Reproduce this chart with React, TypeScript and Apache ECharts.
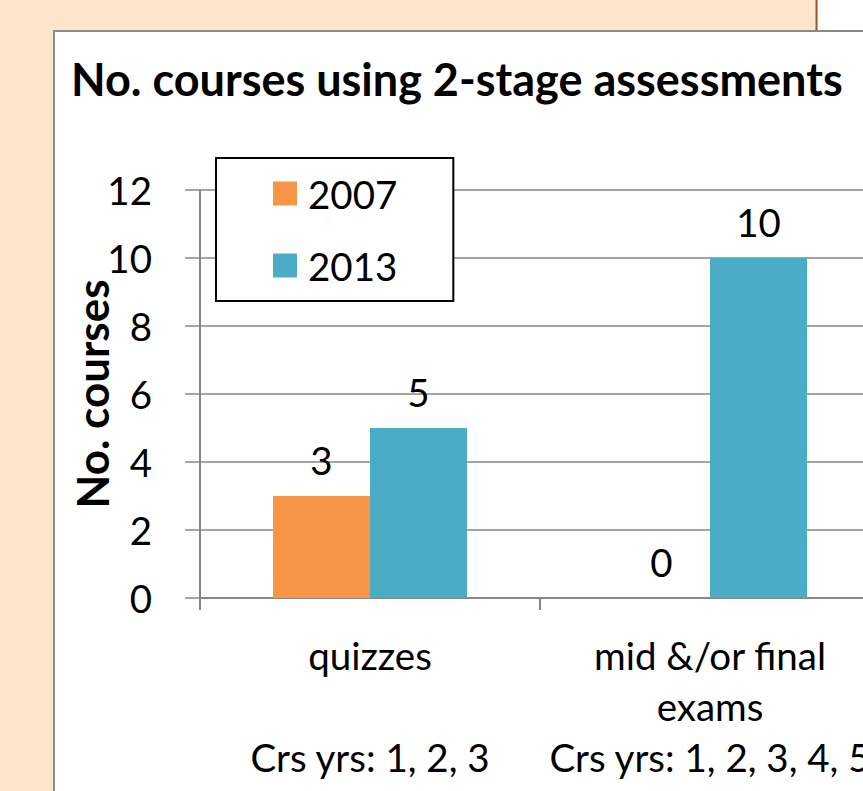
import React, { useEffect, useRef } from "react";
import * as echarts from "echarts";

const categories = ["quizzes\n\nCrs yrs: 1, 2, 3", "mid &/or final\nexams\nCrs yrs: 1, 2, 3, 4, 5"];
const seriesNames = ["2007", "2013"];
const values2007 = [3, 0];
const values2013 = [5, 10];
const yTicks = { min: 0, max: 12, interval: 2 };
const titleText = "No. courses using 2-stage assessments";
const yAxisTitle = "No. courses";

const FONT = "Lato, 'Open Sans', sans-serif";
const FS = 38.5;

export default function App() {
  const ref = useRef<HTMLDivElement>(null);
  useEffect(() => {
    if (!ref.current) return;
    const chart = echarts.init(ref.current, undefined, { renderer: "svg" });
    const labelStyle = {
      show: true,
      position: "top" as const,
      distance: 17,
      fontFamily: FONT,
      fontSize: FS,
      color: "#000",
    };
    chart.setOption({
      animation: false,
      backgroundColor: "#FDE4CD",
      textStyle: { fontFamily: FONT },
      title: {
        text: titleText,
        left: 66,
        top: 51,
        textStyle: { fontFamily: FONT, fontWeight: "bold", fontSize: 45, color: "#000" },
      },
      graphic: [
        { type: "rect", z: -10, shape: { x: 818, y: 0, width: 200, height: 30 }, style: { fill: "#fff" } },
        { type: "line", z: -9, shape: { x1: 816.5, y1: 0, x2: 816.5, y2: 30 }, style: { stroke: "#9A5B22", lineWidth: 2 } },
        {
          type: "rect",
          z: -10,
          shape: { x: 54, y: 31, width: 1000, height: 900 },
          style: { fill: "#fff", stroke: "#898989", lineWidth: 2 },
        },
      ],
      legend: {
        orient: "vertical",
        left: 216,
        top: 158,
        itemWidth: 24,
        itemHeight: 24,
        itemGap: 33,
        icon: "rect",
        padding: [16, 56, 16, 57],
        backgroundColor: "#fff",
        borderColor: "#000",
        borderWidth: 2,
        borderRadius: 0,
        textStyle: { fontFamily: FONT, fontSize: FS, color: "#000", lineHeight: 39, padding: [0, 0, 0, 6] },
        z: 10,
      },
      grid: { left: 200, width: 680, top: 190, height: 408, containLabel: false },
      xAxis: {
        type: "category",
        data: categories,
        axisLine: { lineStyle: { color: "#868686", width: 2 } },
        axisTick: { show: true, length: 12, lineStyle: { color: "#868686", width: 2 } },
        axisLabel: {
          fontFamily: FONT,
          fontSize: FS,
          color: "#000",
          lineHeight: 51,
          margin: 31,
          interval: 0,
        },
      },
      yAxis: {
        type: "value",
        min: yTicks.min,
        max: yTicks.max,
        interval: yTicks.interval,
        name: yAxisTitle,
        nameLocation: "middle",
        nameRotate: 90,
        nameGap: 86,
        nameMoveOverlap: false,
        nameTextStyle: { fontFamily: FONT, fontWeight: "bold", fontSize: 44, color: "#000" },
        axisLine: { show: true, lineStyle: { color: "#868686", width: 2 } },
        axisTick: { show: true, length: 15, lineStyle: { color: "#868686", width: 1.5 } },
        axisLabel: { fontFamily: FONT, fontSize: FS, color: "#000", margin: 48 },
        splitLine: { lineStyle: { color: "#868686", width: 1.5 } },
      },
      series: [
        {
          name: seriesNames[0],
          type: "bar",
          data: values2007,
          barWidth: 97,
          barGap: "0%",
          itemStyle: { color: "#F79646" },
          label: labelStyle,
        },
        {
          name: seriesNames[1],
          type: "bar",
          data: values2013,
          barWidth: 97,
          barGap: "0%",
          itemStyle: { color: "#4BACC6" },
          label: labelStyle,
        },
      ],
    });
    return () => chart.dispose();
  }, []);
  return (
    <div style={{ position: "fixed", left: 0, top: 0, width: 863, height: 791, overflow: "hidden" }}>
      <div ref={ref} style={{ width: 900, height: 791 }} />
    </div>
  );
}
